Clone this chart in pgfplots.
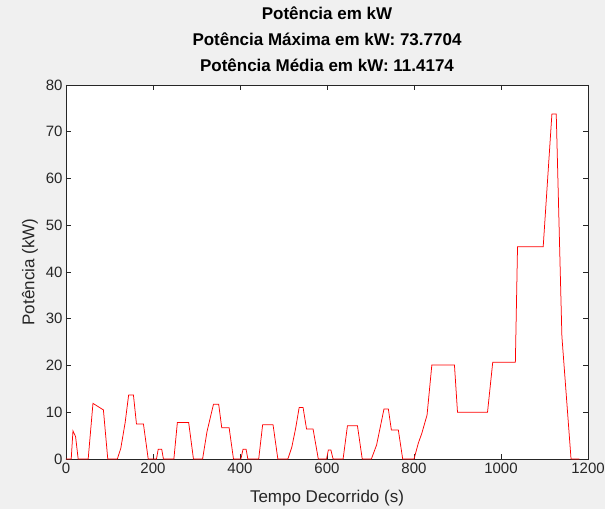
\documentclass[border=0pt]{standalone}
\usepackage{fontspec}
\setmainfont{Liberation Sans}
\usepackage{pgfplots}
\pgfplotsset{compat=1.18}
\definecolor{bg}{RGB}{240,240,240}
\definecolor{ax}{RGB}{38,38,38}
\begin{document}
\begin{tikzpicture}
\fill[bg] (-66pt,-50pt) rectangle (539pt,459pt);
\useasboundingbox (-66pt,-50pt) rectangle (539pt,459pt);
\begin{axis}[at={(0,0)}, anchor=south west, scale only axis,
  width=522pt, height=374pt,
  xmin=0, xmax=1200, ymin=0, ymax=80,
  xtick={0,200,...,1200}, ytick={0,10,...,80},
  axis background/.style={fill=white},
  axis line style={ax, line width=0.6pt},
  tick style={ax, line width=0.6pt},
  major tick length=5pt, tick align=inside,
  ticklabel style={font=\fontsize{15}{15}\selectfont, text=ax},
  /pgf/number format/assume math mode=true,
  /pgf/number format/1000 sep={},
  xlabel={Tempo Decorrido (s)}, ylabel={Potência (kW)},
  label style={font=\fontsize{17}{17}\selectfont, text=ax},
  xlabel style={at={(axis description cs:0.5,0)}, anchor=center, yshift=-39pt},
  ylabel style={at={([xshift=-36pt]axis description cs:0,0.5)}, anchor=center},
  title={Potência em kW\\Potência Máxima em kW: 73.7704\\Potência Média em kW: 11.4174},
  title style={at={(axis description cs:0.5,1)}, anchor=south, inner sep=0pt, yshift=7pt,
    font=\bfseries\fontsize{17}{26}\selectfont, align=center, text=black},
]
\addplot[red, line width=0.75pt] coordinates {
(0,0) (12,0) (16,6.0) (22,4.8) (28,0)
(51,0) (62,11.9) (86,10.5) (96,0)
(118,0) (126,2.3) (136,7.8) (144,13.7) (155,13.7) (162,7.5) (178,7.5) (189,0)
(208,0) (212,2.1) (220,2.1) (224,0)
(248,0) (256,7.8) (282,7.8) (293,0)
(314,0) (324,5.8) (339,11.7) (351,11.7) (358,6.7) (375,6.7) (385,0)
(402,0) (407,2.1) (414,2.1) (418,0)
(443,0) (452,7.3) (476,7.3) (487,0)
(510,0) (519,2.5) (528,6.6) (536,11.0) (545,11.0) (553,6.4) (568,6.4) (580,0)
(599,0) (603,1.9) (609,1.9) (614,0)
(637,0) (647,7.1) (670,7.1) (681,0)
(702,0) (714,3.0) (731,10.7) (741,10.7) (748,6.2) (764,6.2) (774,0)
(800,0) (810,3.4) (818,5.5) (830,9.4) (841,20.1) (893,20.1) (900,10.0) (969,10.0)
(981,20.7) (1033,20.7) (1038,45.4) (1097,45.4) (1117,73.77) (1127,73.77)
(1140,26.2) (1161,0) (1180,0)
};
\end{axis}
\end{tikzpicture}
\end{document}
